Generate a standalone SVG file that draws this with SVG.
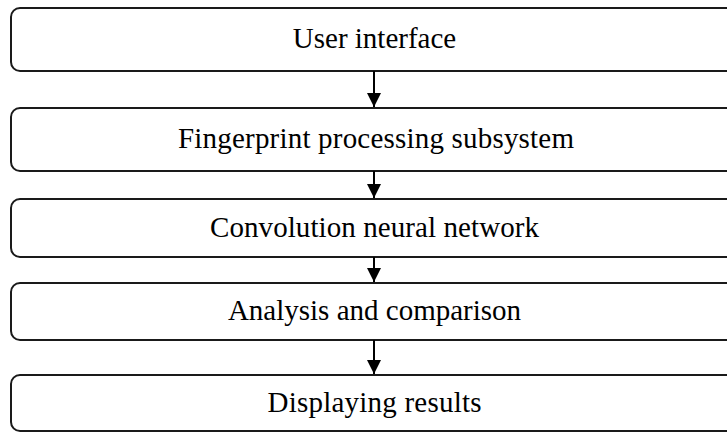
<svg xmlns="http://www.w3.org/2000/svg" width="727" height="432" viewBox="0 0 727 432">
<style>
.box{fill:#fff;stroke:#1a1a1a;stroke-width:2}
.lbl{font-family:"Liberation Serif","Times New Roman",serif;font-size:29px;fill:#000;text-anchor:middle}
.conn{stroke:#000;stroke-width:2;fill:none}
</style>
<defs>
<marker id="ah" markerWidth="14" markerHeight="14" viewBox="0 0 14 14" refX="14" refY="7" orient="auto" markerUnits="userSpaceOnUse">
<path d="M0,0 L14,7 L0,14 z" fill="#000"/>
</marker>
</defs>
<rect width="727" height="432" fill="#fff"/>
<g id="n1"><rect class="box" x="11" y="8" width="740" height="63" rx="9"/><text class="lbl" x="374.5" y="48">User interface</text></g>
<g id="n2"><rect class="box" x="11" y="108" width="740" height="63" rx="9"/><text class="lbl" x="376" y="148" textLength="396" lengthAdjust="spacing">Fingerprint processing subsystem</text></g>
<g id="n3"><rect class="box" x="11" y="199" width="740" height="58" rx="9"/><text class="lbl" x="374.5" y="237" textLength="329" lengthAdjust="spacing">Convolution neural network</text></g>
<g id="n4"><rect class="box" x="11" y="283" width="740" height="57" rx="9"/><text class="lbl" x="374.5" y="320">Analysis and comparison</text></g>
<g id="n5"><rect class="box" x="11" y="375" width="740" height="56" rx="9"/><text class="lbl" x="374.5" y="412" textLength="214" lengthAdjust="spacing">Displaying results</text></g>
<g id="connectors">
<line class="conn" x1="374" y1="71" x2="374" y2="107" marker-end="url(#ah)"/>
<line class="conn" x1="374" y1="171" x2="374" y2="198" marker-end="url(#ah)"/>
<line class="conn" x1="374" y1="257" x2="374" y2="282" marker-end="url(#ah)"/>
<line class="conn" x1="374" y1="340" x2="374" y2="374" marker-end="url(#ah)"/>
</g>
</svg>
